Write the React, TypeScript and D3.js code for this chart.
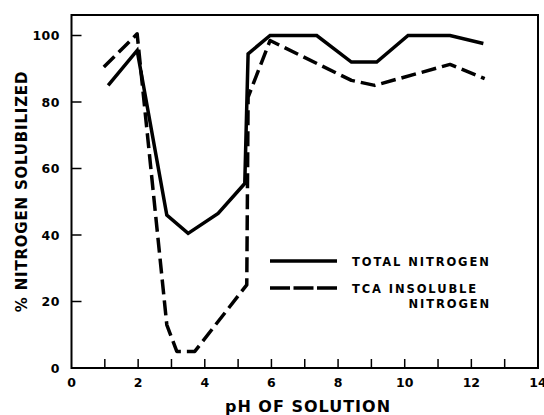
import React from "react";
import * as d3 from "d3";

const totalX = [1.1, 1.97, 2.86, 3.5, 4.4, 5.2, 5.3, 5.96, 7.36, 8.4, 9.16, 10.1, 11.36, 12.36];
const totalY = [85, 95.5, 46, 40.5, 46.5, 55.5, 94.5, 100, 100, 92, 92, 100, 100, 97.6];
const tcaX = [0.97, 1.97, 2.86, 3.16, 3.7, 5.26, 5.3, 5.96, 8.4, 9.1, 11.36, 12.4];
const tcaY = [90.5, 100.5, 13, 5, 5, 25, 81.5, 98.5, 86.5, 85, 91.3, 87];
const xTickLabels = [0, 2, 4, 6, 8, 10, 12, 14];
const xMinorTicks = [1, 2, 3, 4, 5, 6, 7, 8, 9, 10, 11, 12, 13];
const yTickLabels = [0, 20, 40, 60, 80, 100];

const W = 544, H = 415;
const L = 71.5, R = 538, T = 15, B = 368;

export default function App() {
  const x = d3.scaleLinear().domain([0, 14]).range([L, R]);
  const y = d3.scaleLinear().domain([0, 100]).range([B, 35.5]);
  const line = d3.line<[number, number]>().x(d => x(d[0])).y(d => y(d[1]));
  const totalPts = totalX.map((v, i) => [v, totalY[i]] as [number, number]);
  const tcaPts = tcaX.map((v, i) => [v, tcaY[i]] as [number, number]);
  const font = "'DejaVu Sans', sans-serif";
  return (
    <svg width={W} height={H} style={{ position: "absolute", left: 0, top: 0, background: "#fff" }}>
      <rect x={L} y={T} width={R - L} height={B - T} fill="none" stroke="#000" strokeWidth={2} />
      {xMinorTicks.map(t => (
        <line key={"xt" + t} x1={x(t)} x2={x(t)} y1={B} y2={B - 9} stroke="#000" strokeWidth={1.5} />
      ))}
      {yTickLabels.map(t => (
        <line key={"yt" + t} x1={L} x2={L + 10} y1={y(t)} y2={y(t)} stroke="#000" strokeWidth={1.5} />
      ))}
      {xTickLabels.map(t => (
        <text key={"xl" + t} x={x(t)} y={387} textAnchor="middle" fontFamily={font} fontWeight="bold" fontSize={12.5}>{t}</text>
      ))}
      {yTickLabels.map(t => (
        <text key={"yl" + t} x={60} y={y(t) + 4.5} textAnchor="end" fontFamily={font} fontWeight="bold" fontSize={12.5} letterSpacing={0.5}>{t}</text>
      ))}
      <path d={line(totalPts) || ""} fill="none" stroke="#000" strokeWidth={3.5} strokeLinejoin="miter" />
      <path d={line(tcaPts) || ""} fill="none" stroke="#000" strokeWidth={3.5} strokeDasharray="15 6" strokeLinejoin="round" />
      <line x1={270} x2={337} y1={261} y2={261} stroke="#000" strokeWidth={3.5} />
      <line x1={270} x2={337} y1={288} y2={288} stroke="#000" strokeWidth={3.5} strokeDasharray="20 3.5" />
      <text x={352} y={266} fontFamily={font} fontWeight="bold" fontSize={11.5} letterSpacing={1.9}>TOTAL NITROGEN</text>
      <text x={352} y={293} fontFamily={font} fontWeight="bold" fontSize={11.5} letterSpacing={1.9}>TCA INSOLUBLE</text>
      <text x={491} y={308} textAnchor="end" fontFamily={font} fontWeight="bold" fontSize={11.5} letterSpacing={1.9}>NITROGEN</text>
      <text x={308} y={412} textAnchor="middle" fontFamily={font} fontWeight="bold" fontSize={16} letterSpacing={1}>pH OF SOLUTION</text>
      <text transform={`translate(27,${(T + B) / 2}) rotate(-90)`} textAnchor="middle" fontFamily={font} fontWeight="bold" fontSize={15} letterSpacing={0.8}>% NITROGEN SOLUBILIZED</text>
    </svg>
  );
}
